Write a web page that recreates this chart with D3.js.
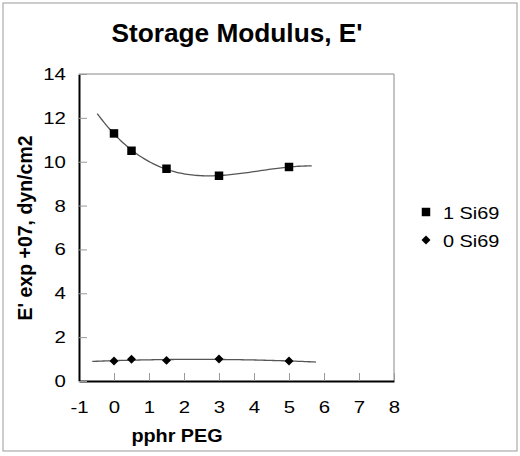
<!DOCTYPE html>
<html><head><meta charset="utf-8">
<script src="https://cdn.jsdelivr.net/npm/d3@7"></script>
<style>
html,body{margin:0;padding:0;background:#fff;}
text{font-family:Arial,"Liberation Sans",Helvetica,sans-serif;fill:#000;}
</style></head>
<body><svg id="c" width="520" height="456"></svg>
<script>
// ---- data ----
const xTicks = [-1,0,1,2,3,4,5,6,7,8];
const yTicks = [0,2,4,6,8,10,12,14];
const pphr = [0,0.5,1.5,3,5];
const si69_1 = [11.29,10.5,9.68,9.36,9.76];
const si69_0 = [0.91,0.99,0.94,1.0,0.91];
const seriesNames = ["1 Si69","0 Si69"];
const trendRange1 = [-0.48,5.65];
const trendRange0 = [-0.62,5.77];
const trendOrder1 = 3;
const trendOrder0 = 2;

const svg = d3.select("#c");
const L=79,R=394,T=74,B=381;

svg.append("rect").attr("x",3).attr("y",3).attr("width",514).attr("height",448)
  .attr("fill","#fff").attr("stroke","#999").attr("stroke-width",1);

const x = d3.scaleLinear().domain([-1,8]).range([L,R]);
const y = d3.scaleLinear().domain([0,14]).range([B,T]);

svg.append("path").attr("d",`M${L},${T}H${R}V${B}`).attr("fill","none").attr("stroke","#888").attr("stroke-width",1);

const xa = svg.append("g").attr("transform",`translate(0,${B})`)
  .call(d3.axisBottom(x).tickValues(xTicks).tickSizeInner(-8).tickSizeOuter(0).tickPadding(20).tickFormat(d=>String(d)));
const ya = svg.append("g").attr("transform",`translate(${L},0)`)
  .call(d3.axisLeft(y).tickValues(yTicks).tickSizeInner(-8).tickSizeOuter(0).tickPadding(11).tickFormat(d=>String(d)));
[xa,ya].forEach(a=>{
  a.select(".domain").attr("stroke","#000").attr("stroke-width",2);
  a.selectAll(".tick line").attr("stroke","#999").attr("stroke-width",1);
  a.selectAll(".tick text").attr("font-size",17).attr("fill","#000").style("font-family","Arial, 'Liberation Sans', sans-serif");
});
xa.selectAll(".tick text").attr("transform","scale(1.2,1)");
ya.selectAll(".tick text").attr("transform","translate(0,0) scale(1.2,1)").attr("x",-11);

function polyfit(xs,ys,ord){
  const n=ord+1;
  const A=[];for(let i=0;i<n;i++){A.push(new Array(n+1).fill(0));}
  xs.forEach((xv,k)=>{for(let i=0;i<n;i++){for(let j=0;j<n;j++)A[i][j]+=Math.pow(xv,i+j);A[i][n]+=ys[k]*Math.pow(xv,i);}});
  for(let i=0;i<n;i++){let p=i;for(let r=i+1;r<n;r++)if(Math.abs(A[r][i])>Math.abs(A[p][i]))p=r;[A[i],A[p]]=[A[p],A[i]];
    for(let r=0;r<n;r++){if(r===i)continue;const f=A[r][i]/A[i][i];for(let c=i;c<=n;c++)A[r][c]-=f*A[i][c];}}
  const co=[];for(let i=0;i<n;i++)co.push(A[i][n]/A[i][i]);
  return xv=>co.reduce((s,c,i)=>s+c*Math.pow(xv,i),0);
}
function trend(vals,range,ord){
  const f=polyfit(pphr,vals,ord);
  const pts=d3.range(0,101).map(i=>{const xv=range[0]+(range[1]-range[0])*i/100;return [x(xv),y(f(xv))];});
  svg.append("path").attr("d",d3.line()(pts)).attr("fill","none").attr("stroke","#555").attr("stroke-width",1.3);
}
trend(si69_1,trendRange1,trendOrder1);
trend(si69_0,trendRange0,trendOrder0);

const sq=d3.symbol().type(d3.symbolSquare).size(72);
const dm=d3.symbol().type(d3.symbolSquare).size(40);
svg.selectAll(".s1").data(pphr).enter().append("path").attr("d",sq)
  .attr("transform",(d,i)=>`translate(${x(d)},${y(si69_1[i])})`).attr("fill","#000");
svg.selectAll(".s0").data(pphr).enter().append("path").attr("d",dm)
  .attr("transform",(d,i)=>`translate(${x(d)},${y(si69_0[i])}) rotate(45)`).attr("fill","#000");

function txt(tx,ty,s,size,bold,str,anchor){
  return svg.append("text").attr("transform",`translate(${tx},${ty}) scale(${s},1)`)
    .attr("text-anchor",anchor||"middle").attr("font-size",size).attr("font-weight",bold?"bold":"normal").text(str);
}
txt(237,42,1.05,25,true,"Storage Modulus, E'");
txt(177,442,1.1,18,true,"pphr PEG");
svg.append("text").attr("transform","translate(32,228) rotate(-90)").attr("text-anchor","middle").attr("font-size",19.5).attr("font-weight","bold").text("E' exp +07, dyn/cm2");

const leg=[{n:seriesNames[0],s:sq,y:212,r:0},{n:seriesNames[1],s:dm,y:240,r:45}];
leg.forEach(l=>{
  svg.append("path").attr("d",l.s).attr("transform",`translate(426,${l.y}) rotate(${l.r})`).attr("fill","#000");
  txt(443,l.y+6.5,1.17,17,false,l.n,"start");
});
</script></body></html>
